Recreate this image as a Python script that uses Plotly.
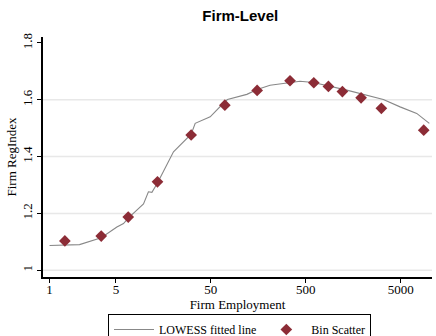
import plotly.graph_objects as go

# LOWESS fitted curve (firm employment vs. regulation index)
lowess_x = [1.0, 2.07, 3.5, 5.12, 6.01, 6.74, 9.76, 11.0, 11.97, 13.7, 20.2, 31.0,
            34.2, 49.2, 70.2, 74.8, 119.6, 153.6, 210, 315, 435, 601, 1352, 3279,
            4917, 7364, 10000]
lowess_y = [1.087, 1.090, 1.114, 1.152, 1.164, 1.183, 1.233, 1.276, 1.274, 1.307,
            1.417, 1.479, 1.517, 1.540, 1.593, 1.601, 1.619, 1.636, 1.651, 1.660,
            1.665, 1.661, 1.634, 1.601, 1.575, 1.552, 1.517]

# Binned scatter means
bin_x = [1.45, 3.5, 6.74, 13.7, 31.0, 70.2, 153.6, 341, 607, 865, 1214, 1910, 3124, 8730]
bin_y = [1.103, 1.120, 1.187, 1.311, 1.476, 1.581, 1.633, 1.667, 1.660, 1.647,
         1.629, 1.607, 1.570, 1.493]

x_ticks = [1, 5, 50, 500, 5000]
y_ticks = [1.0, 1.2, 1.4, 1.6, 1.8]
y_grid = [1.0, 1.2, 1.4, 1.6]

serif = "Liberation Serif"

fig = go.Figure()
fig.add_trace(go.Scatter(
    x=lowess_x, y=lowess_y, mode="lines", name="LOWESS fitted line",
    line=dict(color="#888888", width=1.1),
))
fig.add_trace(go.Scatter(
    x=bin_x, y=bin_y, mode="markers", name="Bin Scatter",
    marker=dict(symbol="diamond", color="#8C2C36", size=9),
))

for g in y_grid:
    fig.add_shape(type="line", xref="paper", x0=0, x1=1, yref="y", y0=g, y1=g,
                  line=dict(color="#E8E8E8", width=1.5), layer="below")

fig.update_layout(
    width=436, height=336,
    margin=dict(l=43, r=4, t=37, b=59, autoexpand=False),
    paper_bgcolor="white", plot_bgcolor="white",
    title=dict(text="<b>Firm-Level</b>", x=0.551, xanchor="center", y=0.952,
               yanchor="middle", font=dict(family="Liberation Sans", size=15, color="black")),
    font=dict(family=serif, size=12, color="black"),
    showlegend=True,
    legend=dict(orientation="h", xref="container", x=108 / 436, xanchor="left",
                yref="container", y=(336 - 314) / 336, yanchor="top",
                bordercolor="black", borderwidth=1, font=dict(family=serif, size=12),
                itemwidth=40, traceorder="normal"),
)

fig.update_xaxes(
    type="log", range=[-0.069, 4.028], tickvals=x_ticks,
    ticktext=[str(v) for v in x_ticks],
    showgrid=False, zeroline=False, showline=True, linecolor="black", linewidth=1.5,
    ticks="outside", ticklen=4, tickcolor="black", tickwidth=1,
    tickfont=dict(family=serif, size=13), ticklabelstandoff=-4,
    title=dict(text="Firm Employment", font=dict(family=serif, size=13), standoff=0),
)
fig.update_yaxes(
    range=[0.976, 1.821], tickvals=y_ticks,
    ticktext=["1", "1.2", "1.4", "1.6", "1.8"], tickangle=-90,
    showgrid=False, zeroline=False, showline=True, linecolor="black", linewidth=1.5,
    ticks="outside", ticklen=4, tickcolor="black", tickwidth=1,
    tickfont=dict(family=serif, size=13),
    title=dict(text="Firm RegIndex", font=dict(family=serif, size=13), standoff=0),
)

fig.write_html("out.html")
